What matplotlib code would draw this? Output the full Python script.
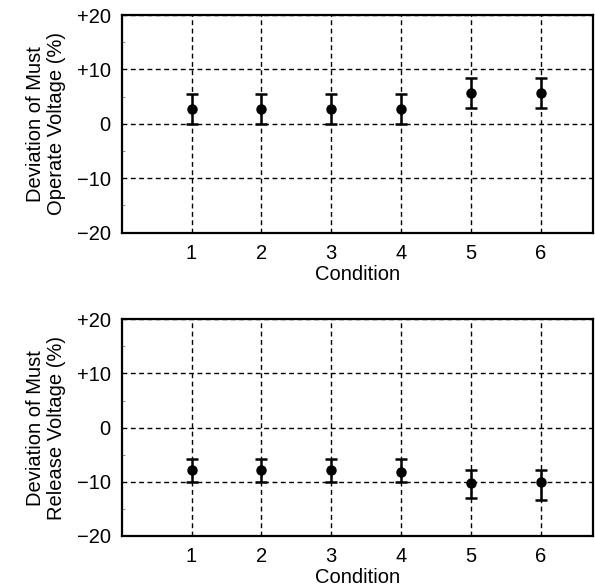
import matplotlib.pyplot as plt
from matplotlib.ticker import FixedLocator

plt.rcParams["font.family"] = ["Liberation Sans", "DejaVu Sans"]
plt.rcParams["font.size"] = 14.5

conditions = [1, 2, 3, 4, 5, 6]

# must operate voltage deviation (%)
operate_mean = [2.8, 2.8, 2.8, 2.8, 5.7, 5.7]
operate_upper = [5.5, 5.5, 5.5, 5.5, 8.4, 8.4]
operate_lower = [0.0, 0.0, 0.0, 0.0, 2.9, 2.9]

# must release voltage deviation (%)
release_mean = [-7.9, -7.9, -7.9, -8.2, -10.2, -10.0]
release_upper = [-5.8, -5.8, -5.8, -5.8, -7.8, -7.8]
release_lower = [-10.0, -10.0, -10.0, -10.0, -13.0, -13.4]

ylabels = ["Deviation of Must\nOperate Voltage (%)", "Deviation of Must\nRelease Voltage (%)"]
ytick_vals = [-20, -10, 0, 10, 20]
ytick_text = ["\u221220", "\u221210", "0", "+10", "+20"]

fig = plt.figure(figsize=(5.95, 5.87), dpi=100)
ax1 = fig.add_axes([0.2045, 0.6036, 0.7925, 0.3708])
ax2 = fig.add_axes([0.2045, 0.0869, 0.7925, 0.3691])

panels = [
    (ax1, operate_mean, operate_upper, operate_lower, ylabels[0]),
    (ax2, release_mean, release_upper, release_lower, ylabels[1]),
]
for ax, mean, up, lo, lab in panels:
    yerr = [[m - l for m, l in zip(mean, lo)], [u - m for m, u in zip(mean, up)]]
    ax.errorbar(conditions, mean, yerr=yerr, fmt="o", color="black",
                markersize=6.5, elinewidth=1.8, capsize=4, capthick=1.8, zorder=3)
    ax.set_xlim(0, 6.75)
    ax.set_ylim(-20, 20)
    ax.set_xticks(conditions)
    ax.set_yticks(ytick_vals)
    ax.set_yticklabels(ytick_text)
    ax.yaxis.set_minor_locator(FixedLocator([-15, -5, 5, 15]))
    ax.grid(True, which="major", color="black", linestyle=(0, (3.5, 2.5)), linewidth=1)
    ax.tick_params(axis="x", which="major", direction="in", length=0, pad=8)
    ax.tick_params(axis="y", which="major", direction="in", length=0, pad=8)
    ax.tick_params(axis="y", which="minor", direction="in", length=2.5, width=0.6,
                   color="#777777", left=True)
    for s in ax.spines.values():
        s.set_linewidth(1.6)
    ax.set_xlabel("Condition")
    ax.xaxis.set_label_coords(0.5, -0.15)
    ax.set_ylabel(lab, linespacing=1.15)
    ax.yaxis.set_label_coords(-0.118, 0.5)

fig.savefig("out.png", dpi=100)
